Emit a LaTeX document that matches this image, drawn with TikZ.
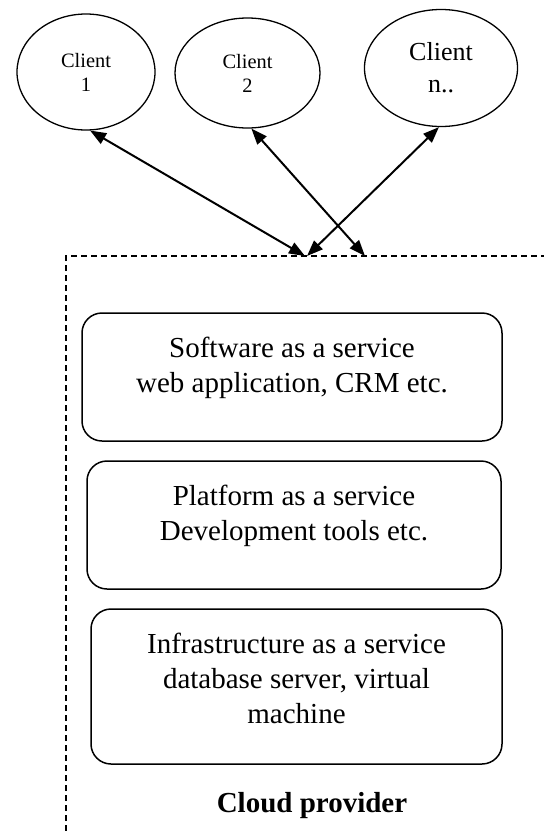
\documentclass[tikz,border=0pt]{standalone}
\usepackage{fontspec}
\setmainfont{Liberation Serif}
\usetikzlibrary{arrows.meta,positioning,shapes.geometric}

\begin{document}
\begin{tikzpicture}[x=0.5pt,y=-0.5pt,
  client/.style={draw,ellipse,line width=0.65pt,inner sep=0pt,align=center},
  layer/.style={draw,rounded corners=10pt,line width=0.75pt,inner sep=0pt},
  layertext/.style={inner sep=0pt,align=center,font=\fontsize{14.5}{17.5}\selectfont},
  link/.style={{Triangle[length=8pt,width=6pt]}-{Triangle[length=8pt,width=6pt]},line width=1pt},
  frame/.style={dash pattern=on 3pt off 2pt,line width=0.8pt}]
\useasboundingbox (0,0) rectangle (544,831);
\node[client,minimum width=69pt,minimum height=58pt,font=\fontsize{10.2}{12}\selectfont] (cl1) at (86,72) {Client\\1};
\node[client,minimum width=72.5pt,minimum height=55pt,font=\fontsize{10.2}{12}\selectfont] (cl2) at (247.5,73) {Client\\2};
\node[client,minimum width=76.5pt,minimum height=58.5pt,font=\fontsize{13}{16}\selectfont] (cln) at (441,68) {Client\\n..};
\draw[frame] (66,831) -- (66,256) -- (544,256);
\coordinate (in1) at (305,256);
\coordinate (in2) at (365,256);
\coordinate (inn) at (307,256);
\draw[link] (cl1.-86) -- (in1);
\draw[link] (cl2.-86) -- (in2);
\draw[link] (cln.-92) -- (inn);
\node[layer,minimum width=210pt,minimum height=64pt] (saas) at (292,377) {};
\node[layer,minimum width=207pt,minimum height=64pt] (paas) at (294,525) {};
\node[layer,minimum width=205.5pt,minimum height=77.5pt] (iaas) at (296.5,686.5) {};
\node[layertext,below=12pt of saas.north] (saastext) {Software as a service\\web application, CRM etc.};
\node[layertext,below=12pt of paas.north] (paastext) {Platform as a service\\Development tools etc.};
\node[layertext,below=12pt of iaas.north] (iaastext) {Infrastructure as a service\\database server, virtual\\machine};
\node[anchor=base,inner sep=0pt,font=\fontsize{14.5}{17.5}\selectfont\bfseries] (provider) at (312,812) {Cloud provider};
\end{tikzpicture}
\end{document}
